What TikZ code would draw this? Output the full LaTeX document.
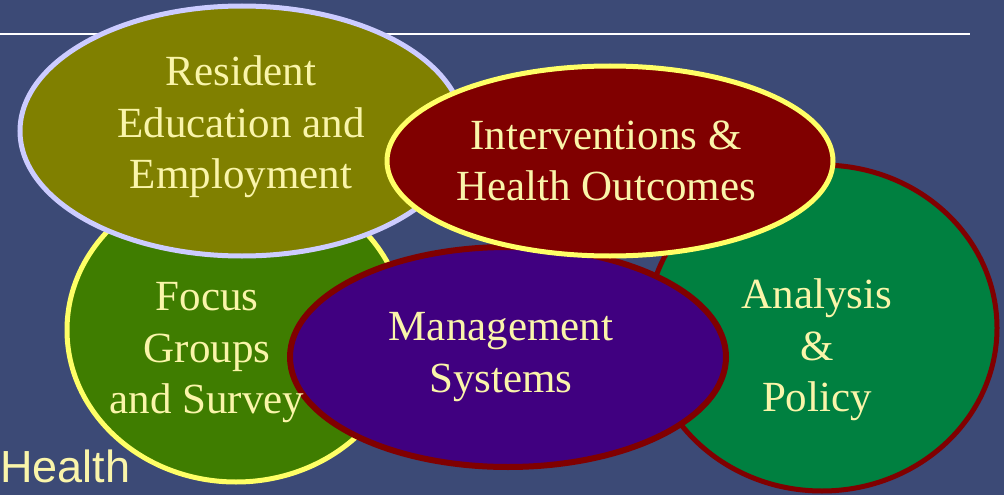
\documentclass[tikz,border=0pt]{standalone}
\usepackage{fontspec}
\setmainfont{Liberation Serif}
\newfontfamily\hsans{Liberation Sans}
\usetikzlibrary{shapes.geometric}
\definecolor{bg}{HTML}{3C4A76}
\definecolor{txt}{HTML}{FAF5AA}
\definecolor{olive}{HTML}{808000}
\definecolor{lav}{HTML}{CCCCFF}
\definecolor{grn}{HTML}{3F7D00}
\definecolor{yel}{HTML}{FFFF66}
\definecolor{maroon}{HTML}{800000}
\definecolor{dgreen}{HTML}{008040}
\definecolor{purp}{HTML}{400080}
\tikzset{
  blob/.style={ellipse, inner sep=0pt, outer sep=0pt, line width=5pt},
  lbl/.style={text=txt, align=center, inner sep=0pt, font=\fontsize{43}{51.5}\selectfont}
}
\begin{document}
\begin{tikzpicture}[x=1pt,y=-1pt]
\fill[bg] (0,0) rectangle (1004,495);
\useasboundingbox (0,0) rectangle (1004,495);
\coordinate (l1) at (0,34);
\coordinate (l2) at (970,34);
\draw[white, line width=2pt] (l1) -- (l2);
% ellipses (back to front)
\node[blob, draw=yel, fill=grn, minimum width=338pt, minimum height=304pt] (focus) at (236,330) {};
\node[blob, draw=maroon, fill=dgreen, minimum width=350pt, minimum height=326pt] (analysis) at (822,328) {};
\node[blob, draw=lav, fill=olive, minimum width=444pt, minimum height=250pt] (resident) at (242,131) {};
\node[blob, draw=maroon, fill=purp, line width=6pt, minimum width=436pt, minimum height=220pt] (manage) at (508,357) {};
\node[blob, draw=yel, fill=maroon, minimum width=446pt, minimum height=190pt] (interv) at (610,161) {};
% labels
\node[lbl] (tres) at (241,127) {Resident\\Education and\\Employment};
\node[lbl] (tint) at (606,161) {Interventions \&\\Health Outcomes};
\node[lbl] (tfoc) at (207,353) {Focus\\Groups\\and Survey};
\node[lbl] (tana) at (817,350) {Analysis\\\&\\Policy};
\node[lbl] (tman) at (501,357) {Management\\Systems};
\node[text=txt, inner sep=0pt, anchor=base west, font=\hsans\fontsize{45}{54}\selectfont] (health) at (0,482) {Health};
\end{tikzpicture}
\end{document}
